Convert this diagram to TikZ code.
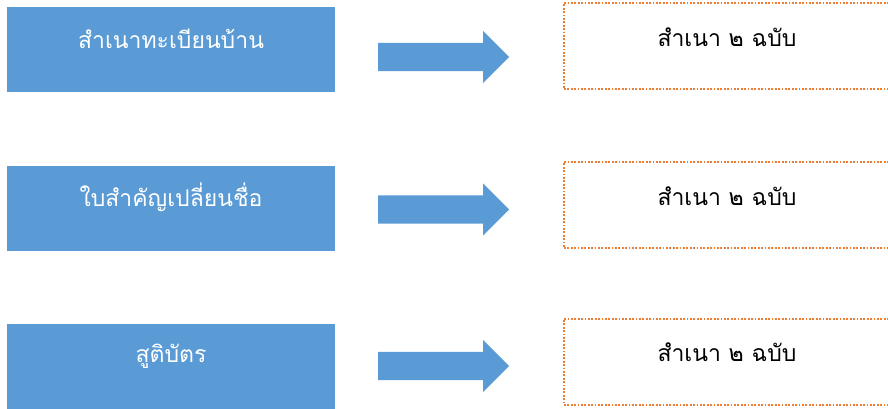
\documentclass[tikz,border=0pt]{standalone}
\usepackage{fontspec}
\usepackage{xcolor}
\newfontfamily\thaifont[Script=Thai]{Loma}
\usetikzlibrary{shapes.arrows,positioning}
\definecolor{boxblue}{HTML}{5B9BD5}
\definecolor{dotorange}{HTML}{ED7D31}
\tikzset{
    every node/.style={font=\thaifont\fontsize{23}{27}\selectfont},
    docbox/.style={rectangle,fill=boxblue,minimum width=328pt,minimum height=85pt,inner sep=0pt},
    copybox/.style={rectangle,draw=dotorange,line width=2pt,dash pattern=on 1.8pt off 1.6pt,minimum width=332pt,minimum height=86pt,inner sep=0pt},
    bigarrow/.style={single arrow,fill=boxblue,inner xsep=0pt,inner ysep=14pt,minimum height=131pt,single arrow head extend=12pt,anchor=west},
    doctext/.style={text=white},
    copytext/.style={text=black}
}
\begin{document}
\begin{tikzpicture}[x=1pt,y=-1pt]
            \useasboundingbox (0,0) rectangle (888,408);
            
            % Draw the three rows: document, arrow, copies
            \foreach \i/\yd/\ya/\yc/\txt in {1/49.5/57/46/สำเนาทะเบียนบ้าน,
                                             2/208/209.5/205/ใบสำคัญเปลี่ยนชื่อ,
                                             3/366.5/366/361.5/สูติบัตร}{
                \node[docbox] (doc\i) at (171,\yd) {};
                \node[doctext] (dt\i) at ([yshift=-32pt]doc\i.north) {\txt};
                \node[bigarrow] (arr\i) at (378,\ya) {};
                \node[copybox] (copy\i) at (730,\yc) {};
                \node[copytext] (ct\i) at ([xshift=-3pt,yshift=-35pt]copy\i.north) {สำเนา ๒ ฉบับ};
            }
        \end{tikzpicture}
\end{document}
